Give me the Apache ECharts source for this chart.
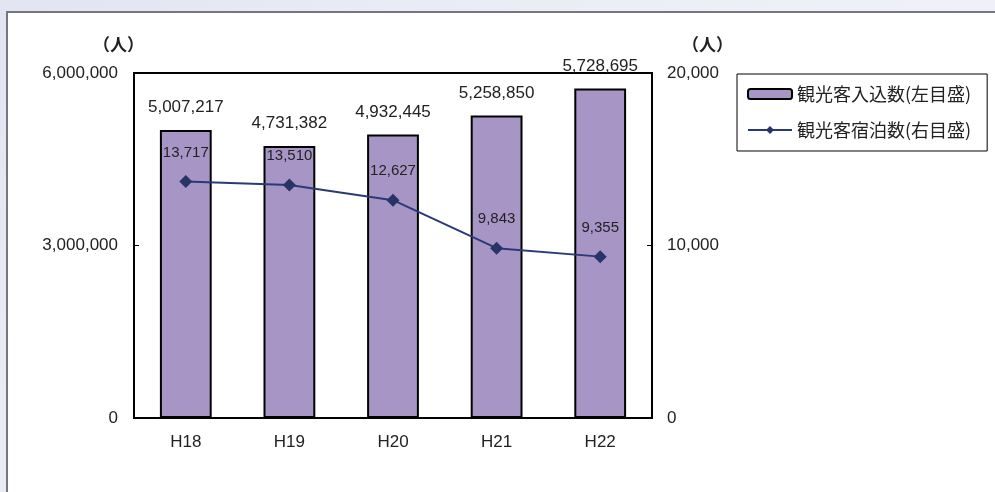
<!DOCTYPE html>
<html>
<head>
<meta charset="utf-8">
<script src="https://cdn.jsdelivr.net/npm/echarts@6/dist/echarts.min.js"></script>
<style>
  html, body { margin: 0; padding: 0; }
  body {
    width: 995px; height: 492px; overflow: hidden;
    background: linear-gradient(135deg, #e2e4f2 0%, #eceef6 40%, #f4f5fa 100%);
    position: relative;
  }
  #chart {
    position: absolute; left: 6px; top: 11px;
    width: 989px; height: 481px; box-sizing: border-box;
    border-left: 2px solid #76767e; border-top: 2px solid #76767e;
    background: #fff;
  }
</style>
</head>
<body>
<div id="chart"></div>
<script>
// 年度
var years = ["H18", "H19", "H20", "H21", "H22"];
// 観光客入込数（左目盛）
var visitors = [5007217, 4731382, 4932445, 5258850, 5728695];
// 観光客宿泊数（右目盛）
var stays = [13717, 13510, 12627, 9843, 9355];

var numFont = "Liberation Sans, Arial, sans-serif";
var jpFont = "Noto Sans CJK JP, sans-serif";

function fmt(v) {
  return v.toLocaleString("en-US");
}

var myChart = echarts.init(document.getElementById("chart"));
myChart.setOption({
  animation: false,
  grid: {
    left: 126,
    top: 60,
    right: 343,
    bottom: 74,
    show: true,
    borderColor: "#000",
    borderWidth: 2
  },
  graphic: [
    {
      type: "text",
      left: 85,
      top: 23,
      style: { text: "（人）", font: "bold 17px " + jpFont, fill: "#222" }
    },
    {
      type: "text",
      left: 674,
      top: 23,
      style: { text: "（人）", font: "bold 17px " + jpFont, fill: "#222" }
    }
  ],
  legend: {
    orient: "vertical",
    left: 729,
    top: 61,
    padding: [11, 16, 12, 10],
    itemGap: 18,
    itemWidth: 44,
    itemHeight: 10,
    borderColor: "#000",
    borderWidth: 1,
    textStyle: { fontFamily: jpFont, fontSize: 18, color: "#222" },
    data: ["観光客入込数(左目盛)", "観光客宿泊数(右目盛)"]
  },
  xAxis: {
    type: "category",
    data: years,
    axisLine: { lineStyle: { color: "#000", width: 2 } },
    axisTick: { inside: true, length: 5, lineStyle: { color: "#000" } },
    axisLabel: { fontFamily: numFont, fontSize: 17, color: "#222", margin: 16 }
  },
  yAxis: [
    {
      type: "value",
      min: 0,
      max: 6000000,
      interval: 3000000,
      splitLine: { show: false },
      axisLine: { show: true, lineStyle: { color: "#000", width: 2 } },
      axisTick: { show: true, inside: true, length: 5, lineStyle: { color: "#000" } },
      axisLabel: { fontFamily: numFont, fontSize: 17, color: "#222", margin: 16, formatter: fmt }
    },
    {
      type: "value",
      min: 0,
      max: 20000,
      interval: 10000,
      splitLine: { show: false },
      axisLine: { show: true, lineStyle: { color: "#000", width: 2 } },
      axisTick: { show: true, inside: true, length: 5, lineStyle: { color: "#000" } },
      axisLabel: { fontFamily: numFont, fontSize: 17, color: "#222", margin: 15, formatter: fmt }
    }
  ],
  series: [
    {
      name: "観光客入込数(左目盛)",
      type: "bar",
      barWidth: "50%",
      data: visitors,
      itemStyle: { color: "#a795c6", borderColor: "#000", borderWidth: 2 },
      label: {
        show: true,
        position: "top",
        distance: 14,
        fontFamily: numFont,
        fontSize: 17,
        color: "#222",
        formatter: function (p) { return fmt(p.value); }
      }
    },
    {
      name: "観光客宿泊数(右目盛)",
      type: "line",
      yAxisIndex: 1,
      data: stays,
      symbol: "diamond",
      symbolSize: 13,
      lineStyle: { color: "#2a3a78", width: 2 },
      itemStyle: { color: "#263466" },
      label: {
        show: true,
        position: "top",
        distance: 15,
        fontFamily: numFont,
        fontSize: 15,
        color: "#222",
        formatter: function (p) { return fmt(p.value); }
      }
    }
  ]
});
</script>
</body>
</html>
